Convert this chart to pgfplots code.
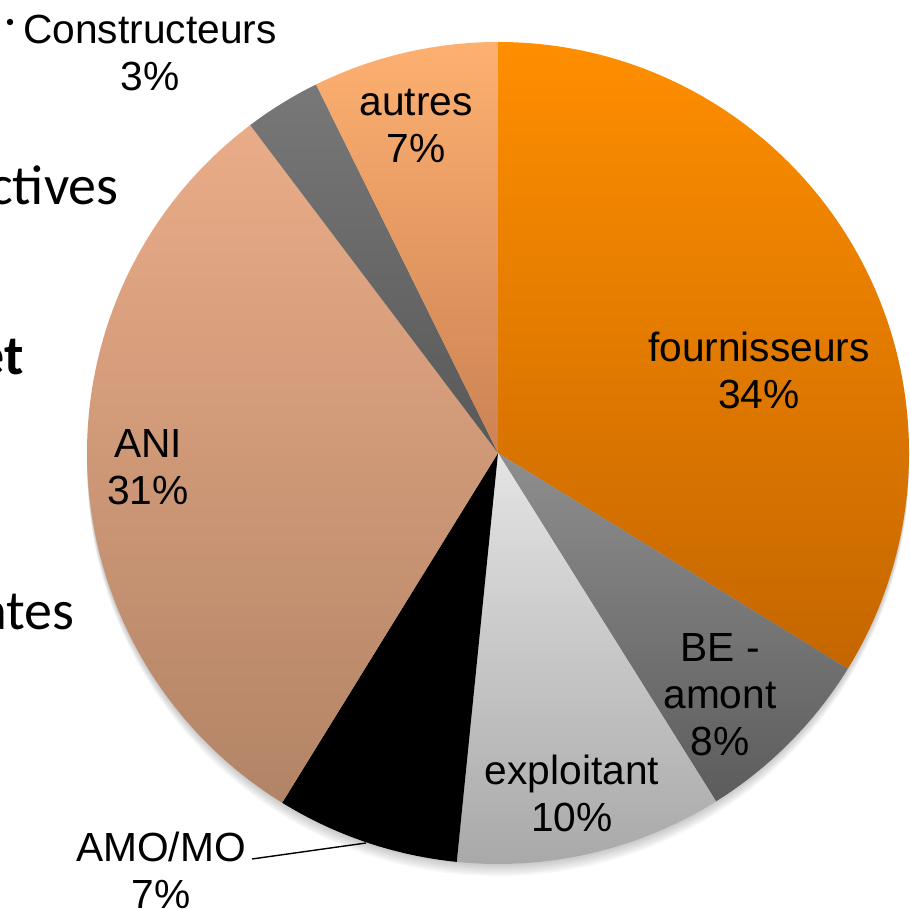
\documentclass[border=0pt]{standalone}
\usepackage{pgfplots}
\pgfplotsset{compat=1.18}
\usepackage{pgfplotstable}
\usepackage{fontspec}
\setmainfont{Liberation Sans}
\newfontfamily\slidefont{Carlito}

% slice colours: top / bottom of each gradient
\definecolor{c0T}{RGB}{255,142,0}   % fournisseurs
\definecolor{c0B}{RGB}{196,102,0}
\definecolor{c1T}{RGB}{142,142,142} % BE - amont
\definecolor{c1B}{RGB}{92,92,92}
\definecolor{c2T}{RGB}{228,228,228} % exploitant
\definecolor{c2B}{RGB}{168,168,168}
\definecolor{c3T}{RGB}{0,0,0}       % AMO/MO
\definecolor{c3B}{RGB}{0,0,0}
\definecolor{c4T}{RGB}{234,172,136} % ANI
\definecolor{c4B}{RGB}{178,132,102}
\definecolor{c5T}{RGB}{120,120,120} % Constructeurs
\definecolor{c5B}{RGB}{88,88,88}
\definecolor{c6T}{RGB}{253,176,112} % autres
\definecolor{c6B}{RGB}{204,130,84}

% shares in percent, clockwise from the top
\pgfplotstableread{
key pct
fournisseurs 33.8
BE-amont 7.3
exploitant 10.5
AMO/MO 7.2
ANI 30.9
Constructeurs 3.0
autres 7.3
}\piedata

\begin{document}
\begin{tikzpicture}
% start / end angle of every slice
\def\cumangle{90}
\pgfplotsforeachungrouped \i in {0,...,6}{%
  \pgfplotstablegetelem{\i}{pct}\of\piedata
  \pgfmathsetmacro\endangle{\cumangle-3.6*\pgfplotsretval}%
  \expandafter\xdef\csname sa\i\endcsname{\cumangle}%
  \expandafter\xdef\csname ea\i\endcsname{\endangle}%
  \xdef\cumangle{\endangle}%
}
\begin{axis}[
    hide axis,
    x=0.5pt, y=0.5pt,
    xmin=0, xmax=910,
    ymin=0, ymax=909,
    clip=false,
]
\coordinate (bl) at (axis cs:0,0);
\coordinate (tr) at (axis cs:910,909);

% soft shadow under the pie
\pgfplotsinvokeforeach{2,4,...,12}{
  \fill[black, opacity=0.035] (axis cs:498,{456-#1}) circle[radius=205.5pt];
}

% slices
\pgfplotsinvokeforeach{0,...,6}{
  \shade[top color=c#1T, bottom color=c#1B]
    (axis cs:498,456) -- ++(\csname sa#1\endcsname:205.5pt)
    arc[start angle=\csname sa#1\endcsname, end angle=\csname ea#1\endcsname, radius=205.5pt]
    -- cycle;
}

% labels
\tikzset{lbl/.style={align=center, font=\fontsize{20.35pt}{23.5pt}\selectfont, inner sep=0pt}}
\node[lbl] at (axis cs:759,539) {fournisseurs\\34\%};
\node[lbl] at (axis cs:720,214) {BE -\\amont\\8\%};
\node[lbl] at (axis cs:572,116) {exploitant\\10\%};
\node[lbl] at (axis cs:161,39) {AMO/MO\\7\%};
\node[lbl] at (axis cs:148,442) {ANI\\31\%};
\node[lbl] at (axis cs:150,856) {Constructeurs\\3\%};
\node[lbl] at (axis cs:416,783) {autres\\7\%};
\draw[black, line width=0.7pt] (axis cs:252,50) -- (axis cs:366,66);
\fill[black] (axis cs:10,887) circle[radius=1.6pt];

% slide text behind the chart, cut at the left edge
\tikzset{slide/.style={font=\slidefont\fontsize{28pt}{32pt}\selectfont, inner sep=0pt, anchor=base east}}
\node[slide] at (axis cs:119,704) {ctives};
\node[slide] at (axis cs:24,534) {\bfseries et};
\node[slide] at (axis cs:75,279) {ates};
\end{axis}
\pgfresetboundingbox
\useasboundingbox (bl) rectangle (tr);
\end{tikzpicture}
\end{document}
